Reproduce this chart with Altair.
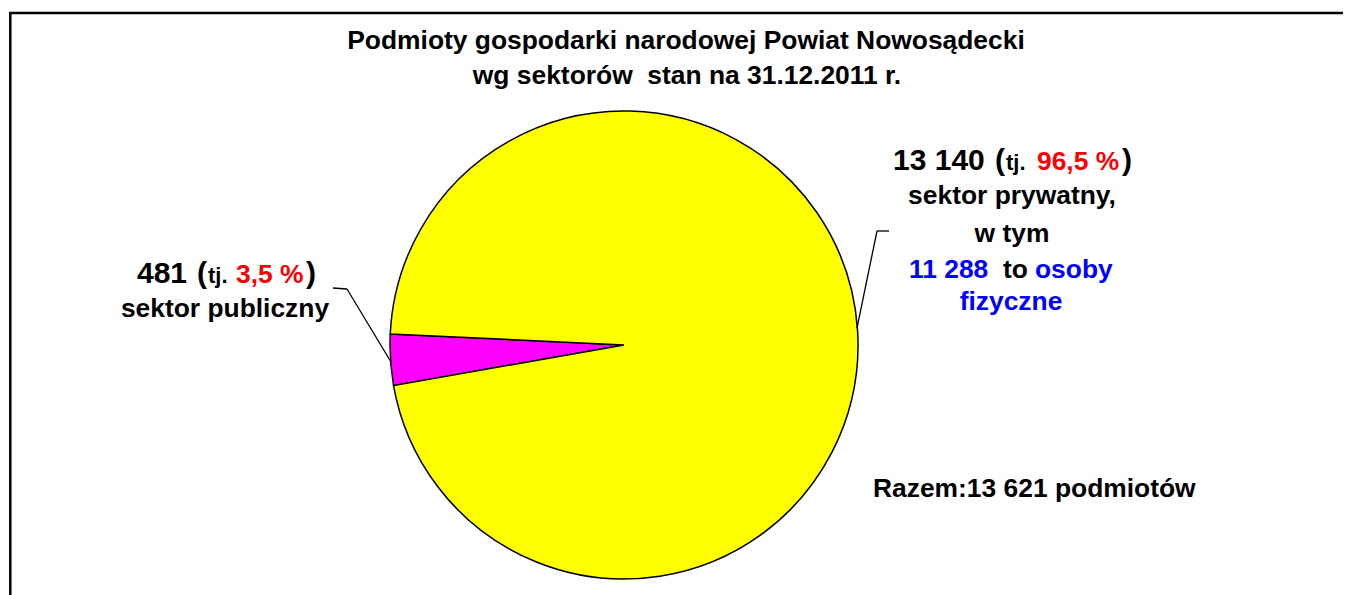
import math
import altair as alt
import pandas as pd

# ---- data ----
sectors = ["sektor publiczny", "sektor prywatny"]
counts = [481, 13140]
order = [0, 1]
slice_colors = ["#FF00FF", "#FFFF00"]
share_labels = ["3,5 %", "96,5 %"]
count_labels = ["481", "13 140"]
individuals_label = "11 288"
total_label = "Razem:13 621 podmiotów"
title_lines = ["Podmioty gospodarki narodowej Powiat Nowosądecki",
               "wg sektorów \u00a0stan na 31.12.2011 r."]

FONT = "Liberation Sans"
OFF = 8
RED = "#FF0000"
BLUE = "#0000FF"
BODY = 26.4
BIG = 30
SMALL = 22


def P(v):
    return v - OFF


one = pd.DataFrame({"k": [0]})


def txt(s, x, y, size, color="black", align="left"):
    return alt.Chart(one).mark_text(
        text=s, font=FONT, fontWeight="bold", fontSize=size, color=color,
        align=align, baseline="alphabetic"
    ).encode(x=alt.value(P(x)), y=alt.value(P(y)))


def seg(x1, y1, x2, y2, w=1.3):
    return alt.Chart(one).mark_rule(color="black", strokeWidth=w).encode(
        x=alt.value(P(x1)), y=alt.value(P(y1)),
        x2=alt.value(P(x2)), y2=alt.value(P(y2)))


frame = alt.Chart(one).mark_rect(fill="white", fillOpacity=0, stroke="black", strokeWidth=2.5).encode(
    x=alt.value(P(10.3)), y=alt.value(P(13)), x2=alt.value(1500), y2=alt.value(800))

pie_df = pd.DataFrame({"sektor": sectors, "liczba": counts, "kolejnosc": order})
start = math.radians(260)
pie = alt.Chart(pie_df).mark_arc(radius=234, stroke="black", strokeWidth=1.5).encode(
    theta=alt.Theta("liczba:Q", stack=True,
                    scale=alt.Scale(range=[start, start + 2 * math.pi])),
    color=alt.Color("sektor:N", scale=alt.Scale(domain=sectors, range=slice_colors), legend=None),
    order=alt.Order("kolejnosc:Q"),
    x=alt.value(P(624)), y=alt.value(P(345)),
)

lines = [
    seg(333, 288, 347, 289), seg(347, 289, 391, 362),
    seg(889, 231, 877, 231), seg(877, 231, 857, 328),
]

texts = [
    txt(title_lines[0], 686, 49, BODY, align="center"),
    txt(title_lines[1], 687, 84, BODY, align="center"),
    # private sector label
    txt(count_labels[1], 893, 170, BIG),
    txt("(", 995, 170, BIG),
    txt("tj.", 1006, 170, SMALL),
    txt(share_labels[1], 1037, 170, BODY, RED),
    txt(")", 1122, 170, BIG),
    txt("sektor prywatny,", 1012, 204, BODY, align="center"),
    txt("w tym", 1012, 242, BODY, align="center"),
    txt(individuals_label, 909, 278, BODY, BLUE),
    txt("to", 1003, 278, BODY),
    txt("osoby", 1035, 278, BODY, BLUE),
    txt("fizyczne", 1011, 310, BODY, BLUE, align="center"),
    # public sector label
    txt(count_labels[0], 137, 283, BIG),
    txt("(", 197, 283, BIG),
    txt("tj.", 208, 283, SMALL),
    txt(share_labels[0], 236, 283, BODY, RED),
    txt(")", 306, 283, BIG),
    txt("sektor publiczny", 225, 317, BODY, align="center"),
    # total
    txt(total_label, 873, 497, BODY),
]

chart = alt.layer(frame, pie, *lines, *texts).properties(
    width=1335, height=587, autosize="none", padding=0, background="white"
).configure_view(stroke=None)

chart.save("out.html", embed_options={"renderer": "svg", "actions": False})
